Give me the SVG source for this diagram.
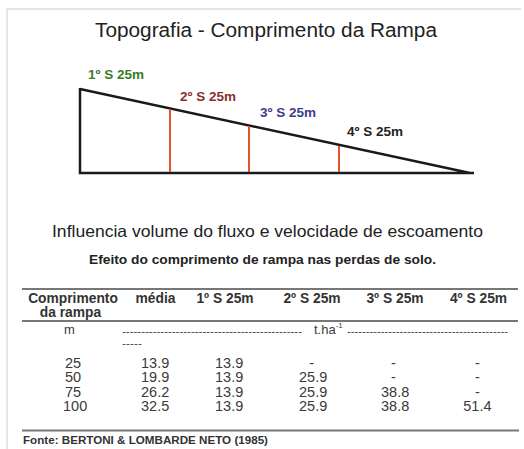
<svg xmlns="http://www.w3.org/2000/svg" width="524" height="449" viewBox="0 0 524 449">
<style>
text{font-family:"Liberation Sans",Arial,sans-serif}
.t{fill:#222}
.lb{font-weight:bold;font-size:13.5px}
.h{font-weight:bold;font-size:13.8px;fill:#333;text-anchor:middle}
.d{font-size:14.5px;fill:#3a3a3a}
.dash{font-size:11px;fill:#444}
.tri{fill:none;stroke:#1a1a1a;stroke-width:2.5;stroke-linejoin:miter}
.red{stroke:#e2532c;stroke-width:2}
.rule{stroke:#777;stroke-width:1.8}
</style>
<rect x="0" y="0" width="524" height="449" fill="#fff"/>
<path d="M7 449 V9 H521" fill="none" stroke="#ddd" stroke-width="1.5"/>
<text class="t" x="266" y="37" font-size="19.5" text-anchor="middle" textLength="342" lengthAdjust="spacingAndGlyphs">Topografia - Comprimento da Rampa</text>
<g id="ramp">
<path class="tri" d="M80 89 L470 173 M80 88 V173 H474"/>
</g>
<g id="connectors">
<line class="red" x1="170" y1="109" x2="170" y2="172"/>
<line class="red" x1="249" y1="126" x2="249" y2="172"/>
<line class="red" x1="339" y1="146" x2="339" y2="172"/>
</g>
<g id="s1"><text class="lb" x="88" y="79" fill="#3b7a2a">1º S 25m</text></g>
<g id="s2"><text class="lb" x="180" y="101" fill="#8b2f2f">2º S 25m</text></g>
<g id="s3"><text class="lb" x="260" y="117" fill="#3d3d8c">3º S 25m</text></g>
<g id="s4"><text class="lb" x="347" y="136" fill="#222">4º S 25m</text></g>
<text class="t" x="267.5" y="237" font-size="16.5" text-anchor="middle" textLength="431" lengthAdjust="spacingAndGlyphs">Influencia volume do fluxo e velocidade de escoamento</text>
<text x="262.5" y="264" font-size="13" font-weight="bold" fill="#222" text-anchor="middle" textLength="347" lengthAdjust="spacingAndGlyphs">Efeito do comprimento de rampa nas perdas de solo.</text>
<g id="table">
<line class="rule" x1="22" y1="289" x2="518" y2="289"/>
<line class="rule" x1="22" y1="321" x2="518" y2="321"/>
<line class="rule" x1="22" y1="430.5" x2="519" y2="430.5"/>
<text class="h" x="73" y="302.5">Comprimento</text>
<text class="h" x="70.5" y="316.5">da rampa</text>
<text class="h" x="155.5" y="302.5">média</text>
<text class="h" x="225" y="302.5">1º S 25m</text>
<text class="h" x="312" y="302.5">2º S 25m</text>
<text class="h" x="395" y="302.5">3º S 25m</text>
<text class="h" x="478.5" y="302.5">4º S 25m</text>
<text x="69.5" y="334" font-size="13" fill="#3a3a3a" text-anchor="middle">m</text>
<text class="dash" x="122" y="335" textLength="180" lengthAdjust="spacingAndGlyphs">-----------------------------------------------</text>
<text x="314" y="334" font-size="13" fill="#3a3a3a">t.ha<tspan font-size="8" dy="-6">-1</tspan></text>
<text class="dash" x="347" y="335" textLength="161" lengthAdjust="spacingAndGlyphs">-------------------------------------------</text>
<text class="dash" x="122" y="346.5" textLength="20" lengthAdjust="spacingAndGlyphs">-----</text>
<text class="d" x="65" y="367.5">25</text>
<text class="d" x="65" y="382">50</text>
<text class="d" x="65" y="396.5">75</text>
<text class="d" x="63" y="411">100</text>
<text class="d" x="141" y="367.5">13.9</text>
<text class="d" x="141" y="382">19.9</text>
<text class="d" x="141" y="396.5">26.2</text>
<text class="d" x="141" y="411">32.5</text>
<text class="d" x="215" y="367.5">13.9</text>
<text class="d" x="215" y="382">13.9</text>
<text class="d" x="215" y="396.5">13.9</text>
<text class="d" x="215" y="411">13.9</text>
<text class="d" x="311.7" y="367.5" text-anchor="middle">-</text>
<text class="d" x="299" y="382">25.9</text>
<text class="d" x="299" y="396.5">25.9</text>
<text class="d" x="299" y="411">25.9</text>
<text class="d" x="393.3" y="367.5" text-anchor="middle">-</text>
<text class="d" x="393.3" y="382" text-anchor="middle">-</text>
<text class="d" x="381" y="396.5">38.8</text>
<text class="d" x="381" y="411">38.8</text>
<text class="d" x="477.3" y="367.5" text-anchor="middle">-</text>
<text class="d" x="477.3" y="382" text-anchor="middle">-</text>
<text class="d" x="477.3" y="396.5" text-anchor="middle">-</text>
<text class="d" x="463.3" y="411">51.4</text>
</g>
<text x="23" y="444" font-size="11.5" font-weight="bold" fill="#333" textLength="245" lengthAdjust="spacingAndGlyphs">Fonte: BERTONI &amp; LOMBARDE NETO (1985)</text>
</svg>
